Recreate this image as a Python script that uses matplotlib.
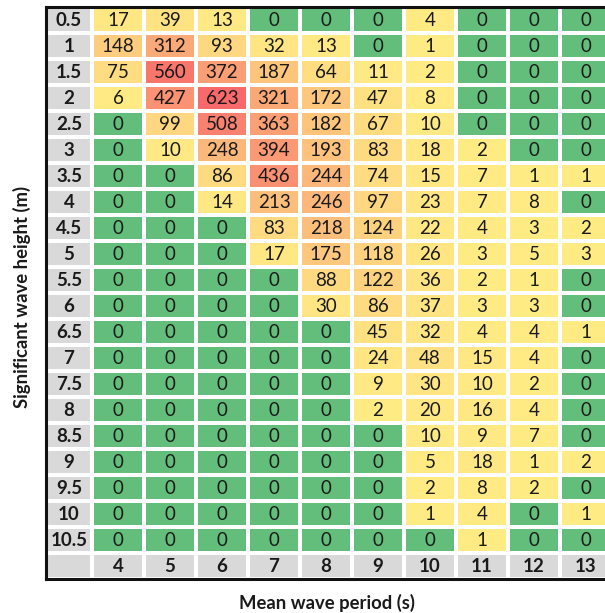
import numpy as np
import matplotlib
matplotlib.use("Agg")
import matplotlib.pyplot as plt
from matplotlib.colors import LinearSegmentedColormap, Normalize

# wave scatter table: rows = Hs (m), columns = Tm (s)
heights = ["0.5", "1", "1.5", "2", "2.5", "3", "3.5", "4", "4.5", "5", "5.5",
           "6", "6.5", "7", "7.5", "8", "8.5", "9", "9.5", "10", "10.5"]
periods = ["4", "5", "6", "7", "8", "9", "10", "11", "12", "13"]
counts = [
    [17, 39, 13, 0, 0, 0, 4, 0, 0, 0],
    [148, 312, 93, 32, 13, 0, 1, 0, 0, 0],
    [75, 560, 372, 187, 64, 11, 2, 0, 0, 0],
    [6, 427, 623, 321, 172, 47, 8, 0, 0, 0],
    [0, 99, 508, 363, 182, 67, 10, 0, 0, 0],
    [0, 10, 248, 394, 193, 83, 18, 2, 0, 0],
    [0, 0, 86, 436, 244, 74, 15, 7, 1, 1],
    [0, 0, 14, 213, 246, 97, 23, 7, 8, 0],
    [0, 0, 0, 83, 218, 124, 22, 4, 3, 2],
    [0, 0, 0, 17, 175, 118, 26, 3, 5, 3],
    [0, 0, 0, 0, 88, 122, 36, 2, 1, 0],
    [0, 0, 0, 0, 30, 86, 37, 3, 3, 0],
    [0, 0, 0, 0, 0, 45, 32, 4, 4, 1],
    [0, 0, 0, 0, 0, 24, 48, 15, 4, 0],
    [0, 0, 0, 0, 0, 9, 30, 10, 2, 0],
    [0, 0, 0, 0, 0, 2, 20, 16, 4, 0],
    [0, 0, 0, 0, 0, 0, 10, 9, 7, 0],
    [0, 0, 0, 0, 0, 0, 5, 18, 1, 2],
    [0, 0, 0, 0, 0, 0, 2, 8, 2, 0],
    [0, 0, 0, 0, 0, 0, 1, 4, 0, 1],
    [0, 0, 0, 0, 0, 0, 0, 1, 0, 0],
]

plt.rcParams['font.family'] = ['Lato', 'DejaVu Sans']

vals = np.array(counts, dtype=float)
nr, nc = vals.shape

# excel-like scale: zero -> green, otherwise yellow -> red
cmap = LinearSegmentedColormap.from_list('yr', ['#FFEB84', '#FBAA77', '#F8696B'])
norm = Normalize(vmin=1, vmax=vals.max())
green = np.array([0x63, 0xBE, 0x7B]) / 255.
grey = np.array([0xD9, 0xD9, 0xD9]) / 255.

rgb = np.zeros((nr + 1, nc + 1, 3))
rgb[:, 0] = grey
rgb[nr, :] = grey
for i in range(nr):
    for j in range(nc):
        v = vals[i, j]
        rgb[i, j + 1] = green if v == 0 else cmap(norm(v))[:3]

lab_w = 46 / 52.
xedges = np.concatenate([[-lab_w], np.arange(nc + 1)])
yedges = np.arange(nr + 2)

fig = plt.figure(figsize=(6.05, 6.13), dpi=100)
W, H = 605., 613.
ax = fig.add_axes([46 / W, (H - 579) / H, (612 - 46) / W, (579 - 7) / H])
ax.pcolormesh(xedges, yedges, rgb, edgecolors='white', linewidth=1.6)
ax.set_xlim(-lab_w, nc)
ax.set_ylim(nr + 1, 0)
ax.set_xticks([])
ax.set_yticks([])
for s in ax.spines.values():
    s.set_linewidth(2.2)
    s.set_color('#111111')

fs = 13.5
for i in range(nr):
    ax.text(-lab_w / 2, i + 0.52, heights[i], ha='center', va='center',
            fontsize=fs, fontweight='bold', color='#1a1a1a')
    for j in range(nc):
        ax.text(j + 0.5, i + 0.52, str(counts[i][j]), ha='center', va='center',
                fontsize=fs, color='#1a1a1a')
for j in range(nc):
    ax.text(j + 0.5, nr + 0.52, periods[j], ha='center', va='center',
            fontsize=fs, fontweight='bold', color='#1a1a1a')

fig.text(327 / W, 1 - 603 / H, 'Mean wave period (s)', ha='center', va='center',
         fontsize=13.3, fontweight='bold', color='#1a1a1a')
fig.text(22 / W, 1 - 297 / H, 'Significant wave height (m)', ha='center', va='center',
         rotation=90, fontsize=13.3, fontweight='bold', color='#1a1a1a')

fig.savefig('out.png', dpi=100)
